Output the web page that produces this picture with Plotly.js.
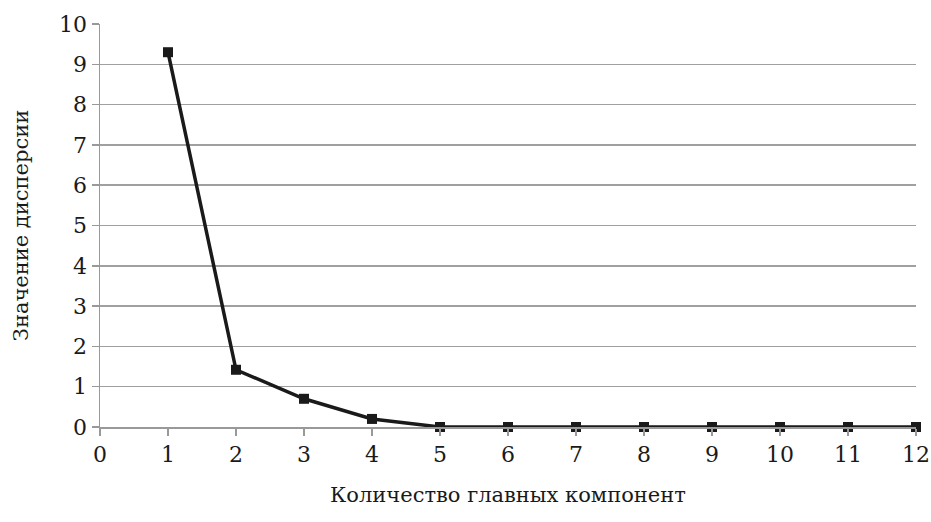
<!DOCTYPE html>
<html><head><meta charset="utf-8">
<script src="https://cdn.plot.ly/plotly-3.0.1.min.js"></script>
<style>body{margin:0;background:#fff}#c{width:931px;height:522px}</style>
</head><body><div id="c"></div>
<script>
const components = [1,2,3,4,5,6,7,8,9,10,11,12];
const variance = [9.3,1.42,0.7,0.2,0.0,0.0,0.0,0.0,0.0,0.0,0.0,0.0];
const xTicks = [0,1,2,3,4,5,6,7,8,9,10,11,12];
const yTicks = [0,1,2,3,4,5,6,7,8,9,10];
const xTitle = 'Количество главных компонент';
const yTitle = 'Значение дисперсии';

const font = {family:'DejaVu Serif', size:22, color:'#1a1a1a'};
const titleFont = {family:'DejaVu Serif', size:21, color:'#1a1a1a'};
Plotly.newPlot('c', [{
  x: components, y: variance, type:'scatter', mode:'lines+markers',
  line:{color:'#1a1a1a', width:3.5},
  marker:{symbol:'square', size:10, color:'#1a1a1a'},
  cliponaxis:false
}], {
  width:931, height:522,
  margin:{l:100, r:15, t:24, b:95},
  paper_bgcolor:'#fff', plot_bgcolor:'#fff',
  showlegend:false,
  font: font,
  xaxis:{range:[0,12], tickvals:xTicks, showgrid:false, zeroline:false,
    showline:true, linecolor:'#999', linewidth:1.5, ticks:'outside', ticklen:7, tickcolor:'#999', tickwidth:1.5,
    tickfont:font, title:{text:xTitle, font:titleFont, standoff:21}},
  yaxis:{range:[0,10], tickvals:yTicks, showgrid:true, gridcolor:'#a0a0a0', gridwidth:1.5, zeroline:false,
    showline:true, linecolor:'#999', linewidth:1.5, ticks:'outside', ticklen:7, tickcolor:'#999', tickwidth:1.5,
    tickfont:font, title:{text:yTitle, font:titleFont, standoff:24}}
}, {staticPlot:true});
</script></body></html>
